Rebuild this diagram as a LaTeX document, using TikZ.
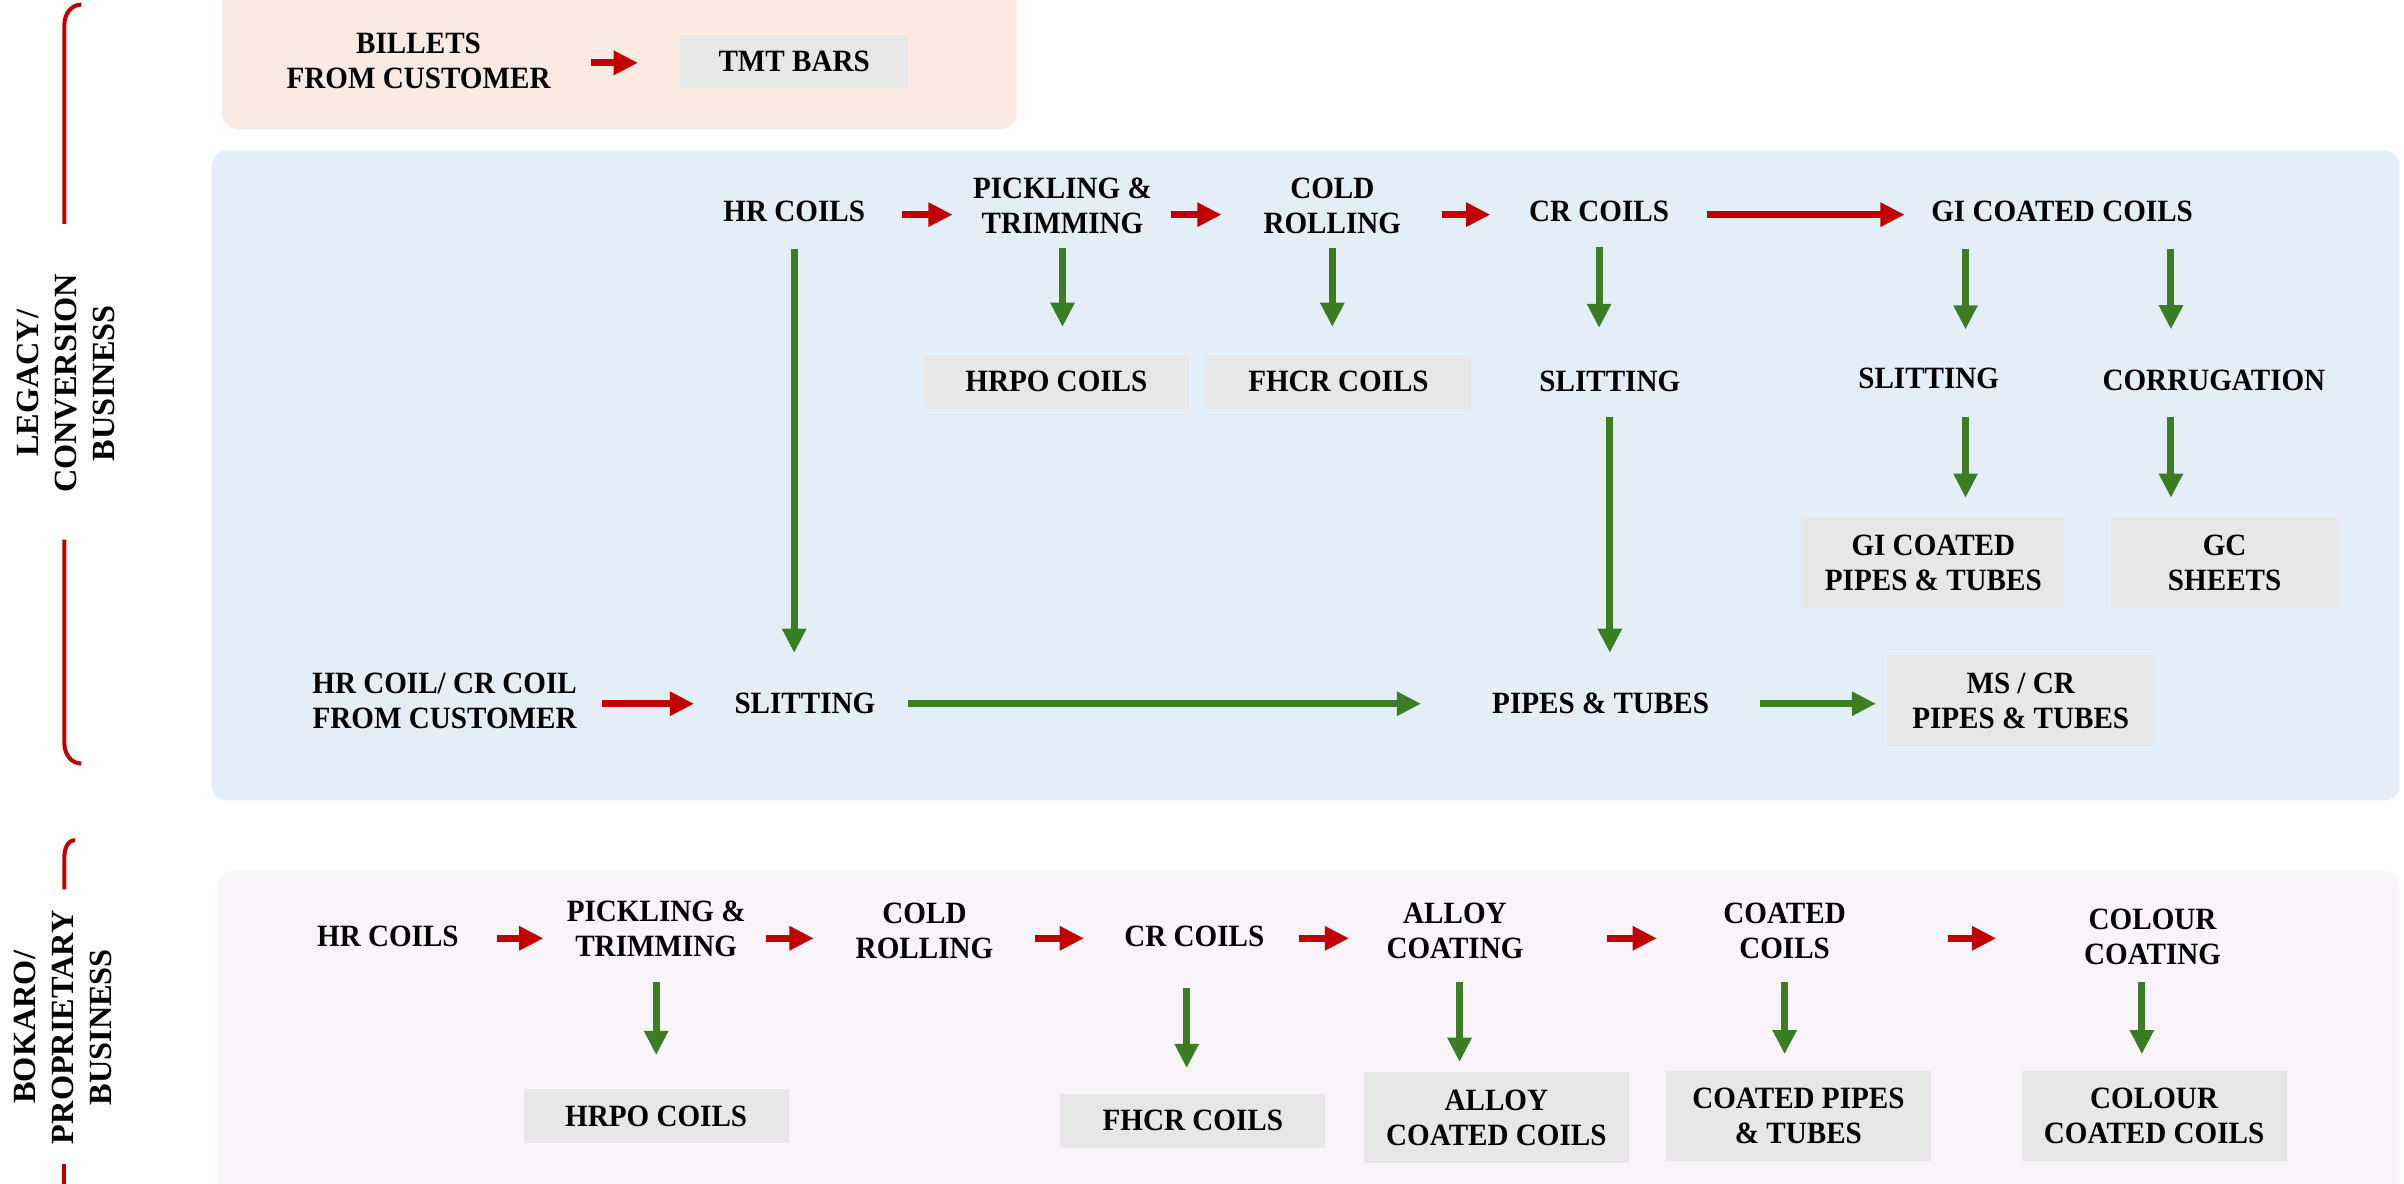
\documentclass[tikz,border=0pt]{standalone}
\usepackage{fontspec}
\setmainfont{Liberation Serif}
\newfontfamily\flowfont{Liberation Serif}[FakeStretch=0.94]
\usetikzlibrary{arrows.meta}
\definecolor{arrowred}{HTML}{C00000}
\definecolor{arrowgreen}{HTML}{3A7D22}
\definecolor{boxgrey}{HTML}{E7E7E7}
\definecolor{pinkband}{HTML}{FBEAE2}
\definecolor{blueband}{HTML}{E4EEF7}
\definecolor{lilacband}{HTML}{F9F3FA}
\tikzset{
	txt/.style={font=\flowfont\bfseries\fontsize{11.5}{13}\selectfont, align=center, inner sep=0pt},
	prod/.style={txt, fill=boxgrey, minimum width=3.46cm, minimum height=0.7cm},
	prodtall/.style={prod, minimum height=1.18cm},
	side/.style={font=\bfseries\fontsize{12}{14.2}\selectfont, align=center, rotate=90, inner sep=0pt},
	band/.style={rounded corners=0.2cm},
	brace/.style={draw=arrowred, line width=1.5pt},
	redarr/.style={draw=arrowred, line width=2.6pt, -{Triangle[width=8.5pt,length=9pt]}},
	greenarr/.style={draw=arrowgreen, line width=2.6pt, -{Triangle[width=8.5pt,length=9pt]}},
	gap/.style 2 args={shorten <=#1, shorten >=#2},
}

\begin{document}
\begin{tikzpicture}[x=0.02cm, y=-0.02cm]
			%%%%% START %%%%%
			\useasboundingbox (0,0) rectangle (1568,772);
			\clip (0,0) rectangle (1568,772);
			
			\fill[pinkband, band] (145,-20) rectangle (663,84);
			\fill[blueband, band] (138,98) rectangle (1565,522);
			\fill[lilacband, band] (142,568) rectangle (1565,800);
			
			\coordinate (rowP) at (0,41);
			\coordinate (rowA) at (0,140);
			\coordinate (rowD) at (0,459);
			\coordinate (rowB) at (0,612);
			
			% side labels
			\node[side] (legacy) at (43,250) {LEGACY/\\CONVERSION\\BUSINESS};
			\node[side] (bokaro) at (41,670) {BOKARO/\\PROPRIETARY\\BUSINESS};
			\draw[brace] (53,3) to[out=180,in=90] (42,16) -- (42,146);
			\draw[brace] (42,352) -- (42,485) to[out=-90,in=180] (53,498);
			\draw[brace] (49,548) to[out=180,in=90] (42,559) -- (42,580);
			\draw[brace] (42,759) -- (42,790);
			
			% billets
			\node[txt] (billets) at (273,40) {BILLETS\\FROM CUSTOMER};
			\node[prod, minimum width=2.98cm] (tmt) at (518,40) {TMT BARS};
			\draw[redarr, gap={14.8pt}{15.4pt}] (billets.east |- rowP) -- (tmt.west |- rowP);
			
			% legacy / conversion
			\node[txt] (hr1) at (518,138) {HR COILS};
			\node[txt] (pick1) at (693,134) {PICKLING \&\\TRIMMING};
			\node[txt] (cold1) at (869,134) {COLD\\ROLLING};
			\node[txt] (cr1) at (1043,138) {CR COILS};
			\node[txt] (gi1) at (1345,138) {GI COATED COILS};
			\node[prod] (hrpo1) at (689,249) {HRPO COILS};
			\node[prod] (fhcr1) at (873,249) {FHCR COILS};
			\node[txt] (slit1) at (1050,249) {SLITTING};
			\node[txt] (slit2) at (1258,247) {SLITTING};
			\node[txt] (corr) at (1444,248) {CORRUGATION};
			\node[prodtall, minimum width=3.42cm] (gipipe) at (1261,367) {GI COATED\\PIPES \& TUBES};
			\node[prodtall, minimum width=2.96cm] (gc) at (1451,367) {GC\\SHEETS};
			\node[txt] (cust) at (290,457) {HR COIL/ CR COIL\\FROM CUSTOMER};
			\node[txt] (slit0) at (525,459) {SLITTING};
			\node[txt] (pipes) at (1044,459) {PIPES \& TUBES};
			\node[prodtall, minimum width=3.48cm] (mscr) at (1318,457) {MS / CR\\PIPES \& TUBES};
			
			\draw[redarr, gap={13.7pt}{7.4pt}] (hr1.east |- rowA) -- (pick1.west |- rowA);
			\draw[redarr, gap={6.8pt}{15.4pt}] (pick1.east |- rowA) -- (cold1.west |- rowA);
			\draw[redarr, gap={14.8pt}{14.2pt}] (cold1.east |- rowA) -- (cr1.west |- rowA);
			\draw[redarr, gap={13.7pt}{9.7pt}] (cr1.east |- rowA) -- (gi1.west |- rowA);
			\draw[redarr, gap={9.1pt}{14.8pt}] (cust.east |- rowD) -- (slit0.west |- rowD);
			\draw[greenarr, gap={12pt}{26.2pt}] (slit0.east |- rowD) -- (pipes.west |- rowD);
			\draw[greenarr, gap={18.8pt}{4pt}] (pipes.east |- rowD) -- (mscr.west |- rowD);
			
			\draw[greenarr, gap={9.7pt}{14.8pt}] (hr1.south) -- (hr1.south |- slit0.north);
			\draw[greenarr, gap={5.1pt}{10.2pt}] (pick1.south) -- (pick1.south |- hrpo1.north);
			\draw[greenarr, gap={5.1pt}{10.2pt}] (cold1.south) -- (cold1.south |- fhcr1.north);
			\draw[greenarr, gap={9.1pt}{15.9pt}] (cr1.south) -- (cr1.south |- slit1.north);
			\draw[greenarr, gap={9.7pt}{14.2pt}] ([xshift=-1.26cm]gi1.south) -- ([xshift=-1.26cm]gi1.south |- slit2.north);
			\draw[greenarr, gap={9.7pt}{14.8pt}] ([xshift=1.42cm]gi1.south) -- ([xshift=1.42cm]gi1.south |- corr.north);
			\draw[greenarr, gap={9.1pt}{14.8pt}] (slit1.south) -- (slit1.south |- pipes.north);
			\draw[greenarr, gap={10.2pt}{7.1pt}] ([xshift=-1.26cm]gi1.south |- slit2.south) -- ([xshift=-1.26cm]gi1.south |- gipipe.north);
			\draw[greenarr, gap={9.7pt}{7.1pt}] ([xshift=1.42cm]gi1.south |- corr.south) -- ([xshift=1.42cm]gi1.south |- gc.north);
			
			% bokaro / proprietary
			\node[txt] (hr2) at (253,611) {HR COILS};
			\node[txt] (pick2) at (428,606) {PICKLING \&\\TRIMMING};
			\node[txt] (cold2) at (603,607) {COLD\\ROLLING};
			\node[txt] (cr2) at (779,611) {CR COILS};
			\node[txt] (alloy) at (949,607) {ALLOY\\COATING};
			\node[txt] (coated) at (1164,607) {COATED\\COILS};
			\node[txt] (colour) at (1404,611) {COLOUR\\COATING};
			\node[prod] (hrpo2) at (428,728) {HRPO COILS};
			\node[prod] (fhcr2) at (778,731) {FHCR COILS};
			\node[prodtall] (alloyc) at (976,729) {ALLOY\\COATED COILS};
			\node[prodtall] (cpipe) at (1173,728) {COATED PIPES\\\& TUBES};
			\node[prodtall] (ccoil) at (1405,728) {COLOUR\\COATED COILS};
			
			\draw[redarr, gap={14.2pt}{8.5pt}] (hr2.east |- rowB) -- (pick2.west |- rowB);
			\draw[redarr, gap={7.4pt}{15.4pt}] (pick2.east |- rowB) -- (cold2.west |- rowB);
			\draw[redarr, gap={15.4pt}{14.8pt}] (cold2.east |- rowB) -- (cr2.west |- rowB);
			\draw[redarr, gap={12.5pt}{13.7pt}] (cr2.east |- rowB) -- (alloy.west |- rowB);
			\draw[redarr, gap={30.7pt}{24.5pt}] (alloy.east |- rowB) -- (coated.west |- rowB);
			\draw[redarr, gap={37.6pt}{32.4pt}] (coated.east |- rowB) -- (colour.west |- rowB);
			
			\draw[greenarr, gap={9.1pt}{12.5pt}] (pick2.south) -- (pick2.south |- hrpo2.north);
			\draw[greenarr, gap={14.8pt}{9.4pt}] ([xshift=-0.1cm]cr2.south) -- ([xshift=-0.1cm]cr2.south |- fhcr2.north);
			\draw[greenarr, gap={8.5pt}{3.7pt}] ([xshift=0.06cm]alloy.south) -- ([xshift=0.06cm]alloy.south |- alloyc.north);
			\draw[greenarr, gap={8.5pt}{6pt}] (coated.south) -- (coated.south |- cpipe.north);
			\draw[greenarr, gap={6.3pt}{6pt}] ([xshift=-0.14cm]colour.south) -- ([xshift=-0.14cm]colour.south |- ccoil.north);
			
			%%%%% END %%%%%
\end{tikzpicture}
\end{document}
